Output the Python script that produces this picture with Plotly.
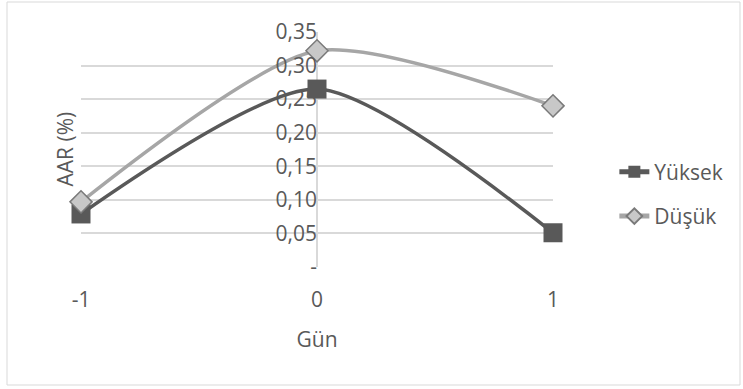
import plotly.graph_objects as go

days = [-1, 0, 1]
yuksek = [0.079, 0.265, 0.051]
dusuk = [0.097, 0.322, 0.240]
ytick_vals = [0, 0.05, 0.10, 0.15, 0.20, 0.25, 0.30, 0.35]
ytick_text = ["-", "0,05", "0,10", "0,15", "0,20", "0,25", "0,30", "0,35"]
xtick_vals = [-1, 0, 1]
xtick_text = ["-1", "0", "1"]

FONT = "Open Sans"
TXT = "#595959"
FS = 21

fig = go.Figure()
fig.add_trace(go.Scatter(
    x=days, y=yuksek, name="Yüksek", mode="lines+markers", legendgroup="a",
    line=dict(color="#595959", width=3.5, shape="spline", smoothing=0.7),
    marker=dict(symbol="square", size=19, color="#595959"),
    cliponaxis=False))
fig.add_trace(go.Scatter(
    x=days, y=dusuk, name="Düşük", mode="lines+markers", legendgroup="b",
    line=dict(color="#a6a6a6", width=3.5, shape="spline", smoothing=0.7),
    marker=dict(symbol="diamond", size=17, color="#c8c8c8",
                line=dict(color="#7a7a7a", width=1.5)),
    cliponaxis=False))

fig.update_layout(
    width=743, height=389,
    margin=dict(l=81, r=190, t=32, b=122),
    paper_bgcolor="white", plot_bgcolor="white",
    font=dict(family=FONT, color=TXT, size=FS),
    xaxis=dict(range=[-1, 1], tickvals=xtick_vals, ticktext=xtick_text,
               showgrid=False, zeroline=True, zerolinecolor="#d9d9d9",
               zerolinewidth=1.5, showline=False, ticks="",
               tickfont=dict(size=FS, color=TXT), ticklabelstandoff=18,
               title=dict(text="Gün", font=dict(size=FS, color=TXT), standoff=20)),
    yaxis=dict(range=[0, 0.35], tickvals=ytick_vals, ticktext=ytick_text,
               showgrid=True, gridcolor="#d9d9d9", gridwidth=1.5,
               zeroline=False, showline=False, ticks="",
               anchor="free", position=0.5,
               tickfont=dict(size=FS, color=TXT)),
    legend=dict(x=1.13, y=0.31, xanchor="left", yanchor="middle",
                font=dict(size=FS, color=TXT), tracegroupgap=14,
                itemsizing="constant", bgcolor="rgba(0,0,0,0)"),
    showlegend=True,
)

fig.add_annotation(text="AAR (%)", xref="paper", yref="paper",
                   x=-0.036, y=0.5, xanchor="center", yanchor="middle",
                   textangle=-90, showarrow=False,
                   font=dict(size=FS, color=TXT))

fig.add_shape(type="rect", xref="paper", yref="paper",
              x0=(7 - 81) / 472, x1=(740 - 81) / 472,
              y0=(267 - 385) / 235, y1=(267 - 2) / 235,
              line=dict(color="#d9d9d9", width=1), layer="below")

fig.write_html("out.html")
